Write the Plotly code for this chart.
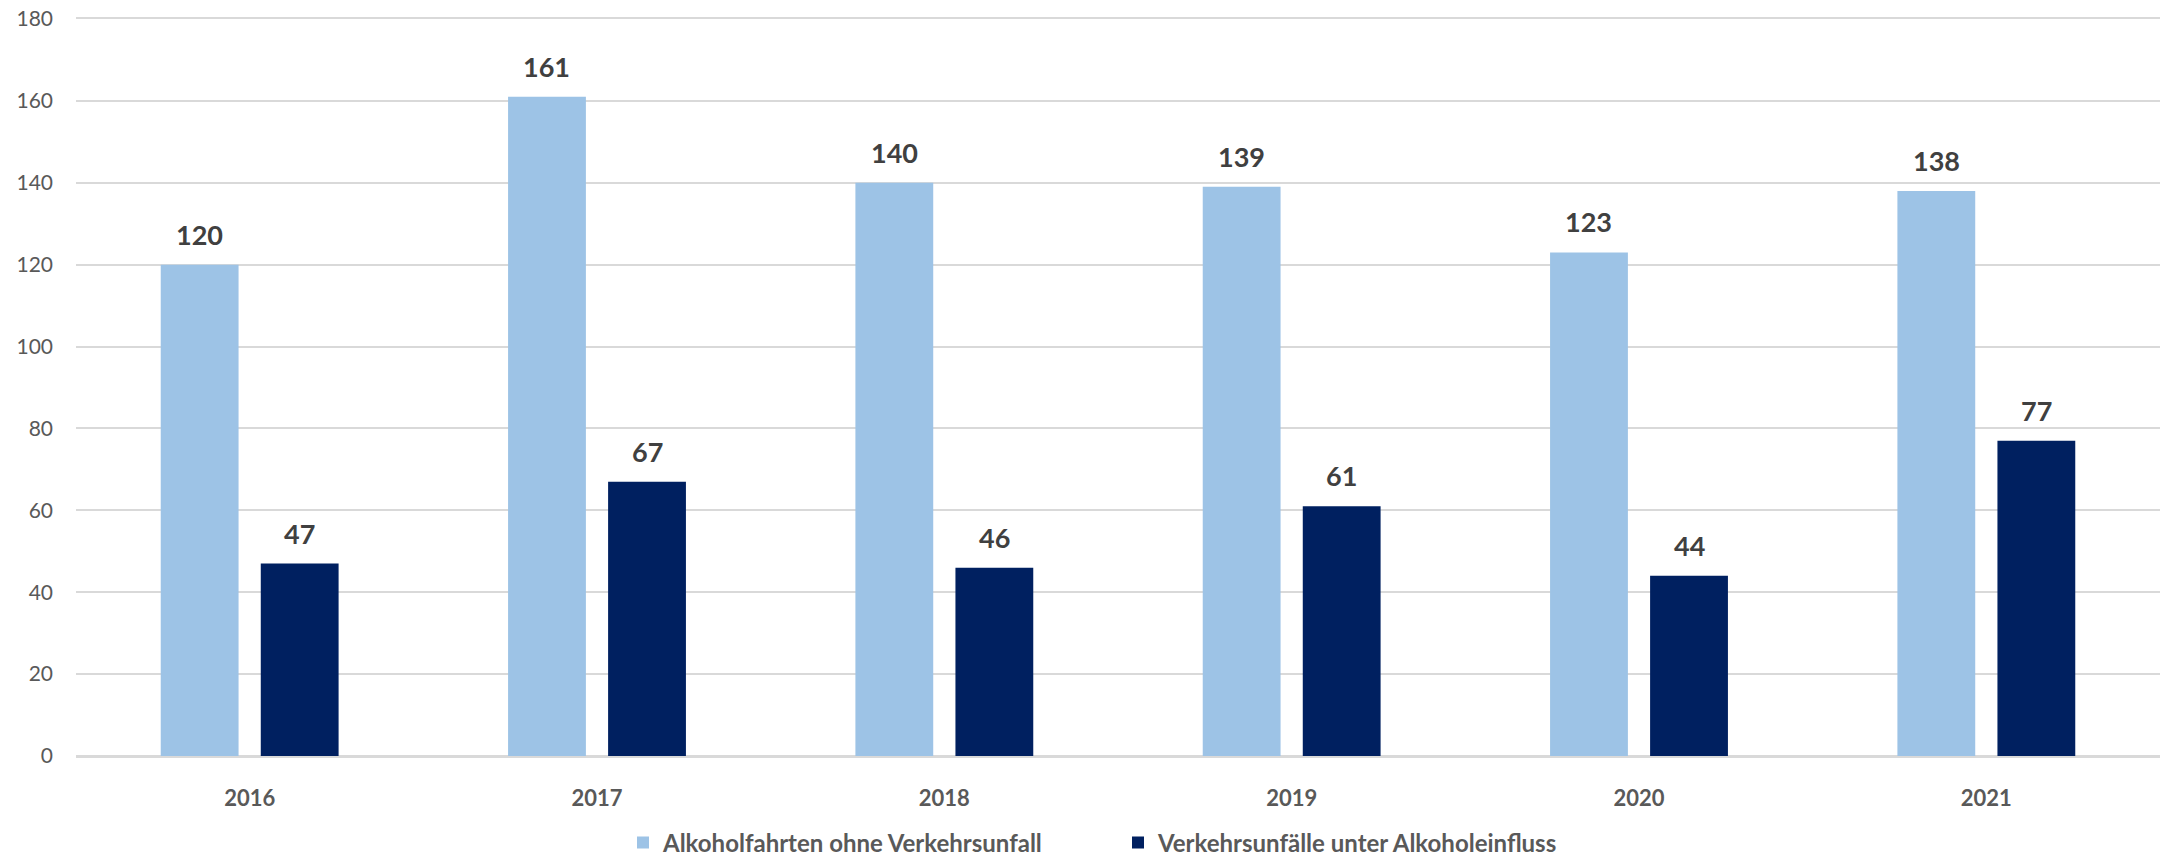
import plotly.graph_objects as go

years = ["2016", "2017", "2018", "2019", "2020", "2021"]
ohne_unfall = [120, 161, 140, 139, 123, 138]
unter_alkohol = [47, 67, 46, 61, 44, 77]
series_names = ["Alkoholfahrten ohne Verkehrsunfall", "Verkehrsunfälle unter Alkoholeinfluss"]
y_ticks = [0, 20, 40, 60, 80, 100, 120, 140, 160, 180]

FONT = "Lato, 'Open Sans', sans-serif"
# page body has an 8px default margin, so the figure is a bit smaller
W, H = 2170, 850
ML, MR, MT, MB = 68, 18, 11, 102
BARGAP, GROUPGAP = 0.424, 0.222

fig = go.Figure()
colors = ["#9DC3E6", "#002060"]
all_vals = [ohne_unfall, unter_alkohol]
for name, vals, color in zip(series_names, all_vals, colors):
    fig.add_trace(go.Bar(
        x=years, y=vals, name=name,
        marker=dict(color=color, line=dict(width=0)),
        hoverinfo="x+y+name",
    ))

# data labels above each bar (offset for grouped position)
cat_px = (W - ML - MR) / len(years)
slot = (1 - BARGAP) / 2
for i, vals in enumerate(all_vals):
    shift = (i - 0.5) * slot * cat_px
    for j, v in enumerate(vals):
        fig.add_annotation(x=j, y=v, text=f"<b>{v}</b>", showarrow=False,
                           xref="x", yref="y", yanchor="bottom", xanchor="center",
                           xshift=shift, yshift=12,
                           font=dict(family=FONT, size=27, color="#404040"))

plot_h = H - MT - MB
fig.update_layout(
    width=W, height=H,
    margin=dict(l=ML, r=MR, t=MT, b=MB, autoexpand=False),
    paper_bgcolor="white", plot_bgcolor="white",
    barmode="group", bargap=BARGAP, bargroupgap=GROUPGAP,
    font=dict(family=FONT, color="#595959"),
    showlegend=True,
    legend=dict(orientation="h", x=0.5, xanchor="center", y=-(835 - (H - MB)) / plot_h,
                yanchor="middle", entrywidth=450, entrywidthmode="pixels",
                font=dict(family=FONT, size=24, color="#595959", weight="bold"),
                traceorder="normal"),
)
fig.update_xaxes(type="category", categoryorder="array", categoryarray=years,
                 range=[-0.5, len(years) - 0.5], autorange=False,
                 showgrid=False, showline=True, mirror=True, linecolor="#D9D9D9", linewidth=2,
                 ticks="", ticklabelstandoff=22,
                 tickfont=dict(family=FONT, size=22, color="#595959", weight="bold"))
fig.update_yaxes(range=[0, 180], tickvals=y_ticks, showgrid=True, gridcolor="#D9D9D9",
                 gridwidth=2, zeroline=True, zerolinecolor="#D9D9D9", zerolinewidth=2,
                 showline=False, ticks="", ticklabelstandoff=22, ticklabeloverflow="allow",
                 tickfont=dict(family=FONT, size=21, color="#595959"))

fig.write_html("out.html")
